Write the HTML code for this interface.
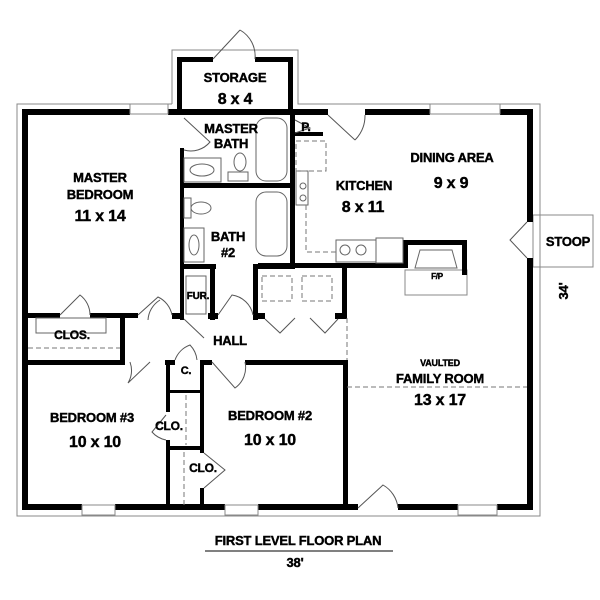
<!DOCTYPE html>
<html><head><style>
html,body{margin:0;padding:0;background:#fff;}
svg{display:block;}
text{font-family:"Liberation Sans",Arial,sans-serif;font-weight:bold;fill:#000;stroke:#000;stroke-width:0.4;text-anchor:middle;letter-spacing:-0.2px;}
</style></head><body>
<svg width="600" height="600" viewBox="0 0 600 600" xmlns="http://www.w3.org/2000/svg">
<g fill="none" stroke="#888" stroke-width="1">
<polyline points="172,104 172,50 298,50 298,104 540,104 540,516 17,516 17,104 172,104"/>
<rect x="533" y="215" width="60" height="52"/>
<rect x="405" y="270" width="62" height="25"/>
</g>
<g fill="#000">
<rect x="22" y="109" width="108" height="6"/>
<rect x="168" y="109" width="12" height="6"/>
<rect x="22" y="109" width="6" height="401"/>
<rect x="22" y="504" width="60" height="6"/>
<rect x="115" y="504" width="110" height="6"/>
<rect x="258" y="504" width="100" height="6"/>
<rect x="398" y="504" width="60" height="6"/>
<rect x="497" y="504" width="36" height="6"/>
<rect x="527" y="109" width="6" height="113"/>
<rect x="527" y="258" width="6" height="252"/>
<rect x="365" y="109" width="65" height="6"/>
<rect x="500" y="109" width="33" height="6"/>
<rect x="288" y="109" width="40" height="6"/>
<rect x="177" y="57" width="36" height="5"/>
<rect x="255" y="57" width="38" height="5"/>
<rect x="177" y="57" width="5" height="58"/>
<rect x="288" y="57" width="5" height="58"/>
<rect x="177" y="109" width="116" height="6"/>
<rect x="180" y="148" width="4" height="172"/>
<rect x="180" y="183" width="113" height="5"/>
<rect x="290" y="109" width="5" height="160"/>
<rect x="293" y="132" width="30" height="4"/>
<rect x="180" y="264" width="36" height="5"/>
<rect x="210" y="264" width="5" height="56"/>
<rect x="253" y="264" width="40" height="5"/>
<rect x="253" y="264" width="5" height="56"/>
<rect x="258" y="263" width="150" height="5"/>
<rect x="403" y="240" width="5" height="28"/>
<rect x="403" y="240" width="64" height="5"/>
<rect x="462" y="240" width="5" height="35"/>
<rect x="342" y="263" width="5" height="55"/>
<rect x="22" y="313" width="38" height="5"/>
<rect x="90" y="313" width="48" height="5"/>
<rect x="172" y="313" width="12" height="6"/>
<rect x="208" y="313" width="10" height="6"/>
<rect x="253" y="313" width="12" height="6"/>
<rect x="335" y="313" width="12" height="6"/>
<rect x="120" y="313" width="5" height="50"/>
<rect x="22" y="360" width="103" height="5"/>
<rect x="165" y="360" width="10" height="5"/>
<rect x="200" y="360" width="12" height="5"/>
<rect x="245" y="360" width="102" height="5"/>
<rect x="343" y="360" width="5" height="150"/>
<rect x="166" y="360" width="4" height="52"/>
<rect x="166" y="440" width="4" height="70"/>
<rect x="200" y="360" width="4" height="93"/>
<rect x="200" y="488" width="4" height="22"/>
<rect x="166" y="390" width="38" height="3"/>
<rect x="166" y="446" width="38" height="4"/>
</g>
<g fill="#fff" stroke="#888" stroke-width="1">
<rect x="130" y="104" width="38" height="10"/>
<rect x="430" y="104" width="70" height="10"/>
<rect x="82" y="505" width="33" height="10"/>
<rect x="225" y="505" width="33" height="10"/>
<rect x="458" y="505" width="39" height="10"/>
</g>
<g fill="none" stroke="#666" stroke-width="1">
<rect x="256" y="118" width="31" height="63" rx="10"/>
<rect x="256" y="192" width="31" height="64" rx="10"/>
<rect x="184" y="158" width="37" height="24"/>
<ellipse cx="202" cy="170" rx="12" ry="6"/>
<ellipse cx="240" cy="162" rx="6" ry="9"/>
<rect x="228" y="172" width="20" height="9"/>
<rect x="184" y="198" width="7" height="20"/>
<ellipse cx="201" cy="208" rx="10" ry="6"/>
<rect x="184" y="228" width="20" height="34"/>
<ellipse cx="194" cy="245" rx="5" ry="10"/>
<rect x="186" y="276" width="20" height="38"/>
<rect x="36" y="318" width="70" height="15"/>
<rect x="296" y="171" width="12" height="34"/>
<circle cx="303" cy="198" r="3"/><circle cx="303" cy="186" r="3"/>
<rect x="336" y="240" width="40" height="22"/>
<circle cx="345" cy="250" r="5"/><circle cx="361" cy="250" r="5"/>
<rect x="376" y="238" width="27" height="25"/>
<polygon points="415,268 420,250 452,250 457,268"/>
</g>
<g fill="none" stroke="#777" stroke-width="1" stroke-dasharray="5,3">
<rect x="296" y="141" width="30" height="30"/>
<polyline points="306,205 306,252 336,252"/>
<line x1="28" y1="348" x2="120" y2="348"/>
<line x1="347" y1="318" x2="347" y2="360"/>
<line x1="347" y1="387" x2="527" y2="387"/>
<rect x="262" y="276" width="30" height="25"/>
<rect x="302" y="276" width="30" height="25"/>
<line x1="186" y1="395" x2="186" y2="445"/>
<line x1="184" y1="452" x2="184" y2="505"/>
</g>
<g fill="none" stroke="#555" stroke-width="1">
<path d="M213,59 L240,30 M240,30 A30,30 0 0 1 255,59"/>
<path d="M184,118 L210,142 A25,25 0 0 1 184,150"/>
<path d="M328,115 L355,140 M365,115 A35,35 0 0 1 355,140"/>
<path d="M295,120 L310,128 L295,133"/>
<path d="M527,222 L510,240 L527,258"/>
<path d="M60,315 L80,295 A25,25 0 0 1 90,315"/>
<path d="M138,315 L158,297 A25,25 0 0 1 172,315 M148,320 A25,25 0 0 1 160,300"/>
<path d="M184,319 L204,338"/>
<path d="M218,315 L232,295 A25,25 0 0 1 253,315"/>
<path d="M265,319 L280,333 L295,318 M310,318 L325,333 L338,319"/>
<path d="M130,362 A25,25 0 0 1 128,383 L150,362"/>
<path d="M175,360 A25,25 0 0 1 190,345 A25,25 0 0 1 197,360"/>
<path d="M212,362 L235,388 A25,25 0 0 0 245,362"/>
<path d="M166,415 L152,432 A25,25 0 0 0 166,440"/>
<path d="M204,453 L225,470 L204,488"/>
<path d="M358,508 L383,485 A30,30 0 0 1 398,508"/>
</g>
<text x="235" y="82" font-size="13">STORAGE</text>
<text x="235" y="104" font-size="16">8 x 4</text>
<text x="231" y="133" font-size="13">MASTER</text>
<text x="231" y="148" font-size="13">BATH</text>
<text x="100" y="182" font-size="13">MASTER</text>
<text x="100" y="199" font-size="13">BEDROOM</text>
<text x="100" y="221" font-size="16">11 x 14</text>
<text x="228" y="241" font-size="13">BATH</text>
<text x="228" y="257" font-size="13">#2</text>
<text x="198" y="299" font-size="10">FUR.</text>
<text x="306" y="131" font-size="12">P.</text>
<text x="364" y="190" font-size="13">KITCHEN</text>
<text x="363" y="212" font-size="16">8 x 11</text>
<text x="452" y="162" font-size="13">DINING AREA</text>
<text x="451" y="188" font-size="16">9 x 9</text>
<text x="568" y="246" font-size="13">STOOP</text>
<text x="437" y="279" font-size="8">F/P</text>
<text x="568" y="291" font-size="13" transform="rotate(-90 568 291)">34'</text>
<text x="72" y="339" font-size="12">CLOS.</text>
<text x="230" y="345" font-size="13">HALL</text>
<text x="186" y="374" font-size="11">C.</text>
<text x="440" y="366" font-size="9">VAULTED</text>
<text x="440" y="383" font-size="13">FAMILY ROOM</text>
<text x="440" y="405" font-size="16">13 x 17</text>
<text x="92" y="422" font-size="13">BEDROOM #3</text>
<text x="95" y="447" font-size="16">10 x 10</text>
<text x="270" y="420" font-size="13">BEDROOM  #2</text>
<text x="270" y="445" font-size="16">10 x 10</text>
<text x="169" y="430" font-size="12">CLO.</text>
<text x="203" y="472" font-size="12">CLO.</text>
<text x="298" y="545" font-size="13">FIRST LEVEL FLOOR PLAN</text>
<line x1="205" y1="551" x2="393" y2="551" stroke="#000" stroke-width="1"/>
<text x="295" y="567" font-size="13">38'</text>
</svg>
</body></html>
